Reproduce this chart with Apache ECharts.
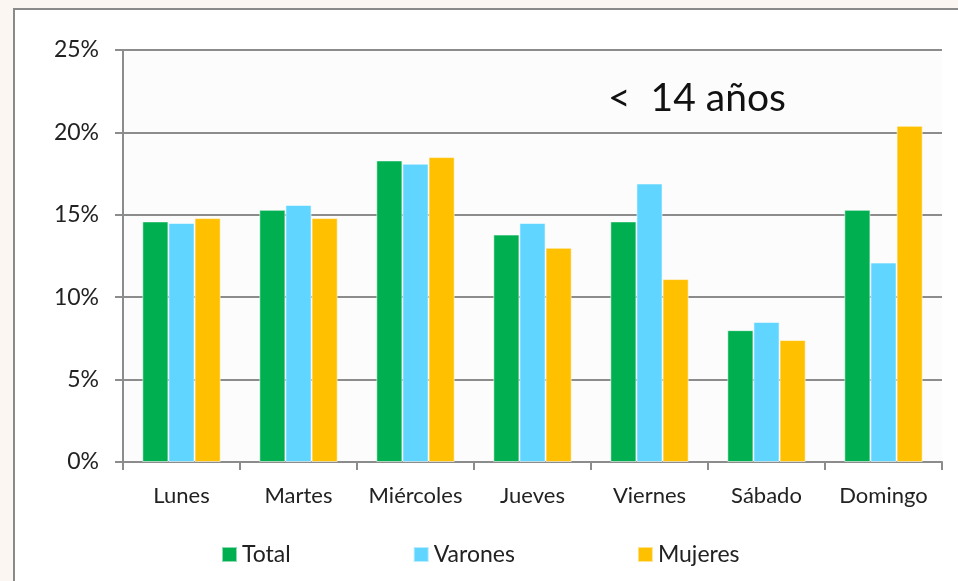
<!DOCTYPE html>
<html>
<head>
<meta charset="utf-8">
<script src="https://cdn.jsdelivr.net/npm/echarts@6/dist/echarts.min.js"></script>
<style>
  html, body { margin: 0; padding: 0; background: #fbf6f2; overflow: hidden; }
  #frame {
    position: absolute; left: 13px; top: 8px; width: 960px; height: 600px;
    background: #ffffff; border: 2px solid #8a8a8a; box-sizing: border-box;
  }
  #chart { position: absolute; left: 0; top: 0; width: 958px; height: 581px; }
</style>
</head>
<body>
<div id="frame"></div>
<div id="chart"></div>
<script>
  const DAYS = ['Lunes', 'Martes', 'Miércoles', 'Jueves', 'Viernes', 'Sábado', 'Domingo'];
  const TOTAL = [14.6, 15.3, 18.3, 13.8, 14.6, 8.0, 15.3];
  const VARONES = [14.5, 15.6, 18.1, 14.5, 16.9, 8.5, 12.1];
  const MUJERES = [14.8, 14.8, 18.5, 13.0, 11.1, 7.4, 20.4];
  const COLORS = ['#00b050', '#5fd5ff', '#ffc000'];

  const FONT = 'Lato, "Open Sans", sans-serif';
  const axisGray = '#8c8c8c';

  function barSeries(name, data) {
    return {
      name: name,
      type: 'bar',
      data: data,
      barGap: '0%',
      barCategoryGap: '33%',
      itemStyle: { borderColor: 'rgba(255,255,255,0.55)', borderWidth: 1 }
    };
  }

  const chart = echarts.init(document.getElementById('chart'), null, { renderer: 'canvas' });
  chart.setOption({
    animation: false,
    color: COLORS,
    textStyle: { fontFamily: FONT },
    title: {
      text: '<  14 años',
      left: 603,
      top: 74,
      textStyle: { fontFamily: FONT, fontSize: 39, fontWeight: 'normal', color: '#111' }
    },
    grid: {
      left: 123, right: 16, top: 50, bottom: 119,
      show: true, backgroundColor: '#fcfcfc', borderWidth: 0
    },
    legend: {
      bottom: 10,
      left: 216,
      itemWidth: 15,
      itemHeight: 15,
      itemGap: 122,
      itemTextGap: 7,
      icon: 'rect',
      textStyle: { fontFamily: FONT, fontSize: 23, color: '#222' },
      data: ['Total', 'Varones', 'Mujeres']
    },
    xAxis: {
      type: 'category',
      data: DAYS,
      axisLine: { lineStyle: { color: axisGray, width: 2 } },
      axisTick: { show: true, interval: 0, length: 8, alignWithLabel: false, lineStyle: { color: axisGray, width: 2 } },
      axisLabel: { interval: 0, hideOverlap: false, fontSize: 22, color: '#222', margin: 23 }
    },
    yAxis: {
      type: 'value',
      min: 0,
      max: 25,
      interval: 5,
      axisLine: { show: true, lineStyle: { color: axisGray, width: 2 } },
      axisTick: { show: true, length: 8, lineStyle: { color: axisGray, width: 2 } },
      axisLabel: { fontSize: 23, color: '#222', margin: 24, formatter: '{value}%' },
      splitLine: { lineStyle: { color: axisGray, width: 2 } }
    },
    series: [
      barSeries('Total', TOTAL),
      barSeries('Varones', VARONES),
      barSeries('Mujeres', MUJERES)
    ]
  });
</script>
</body>
</html>
